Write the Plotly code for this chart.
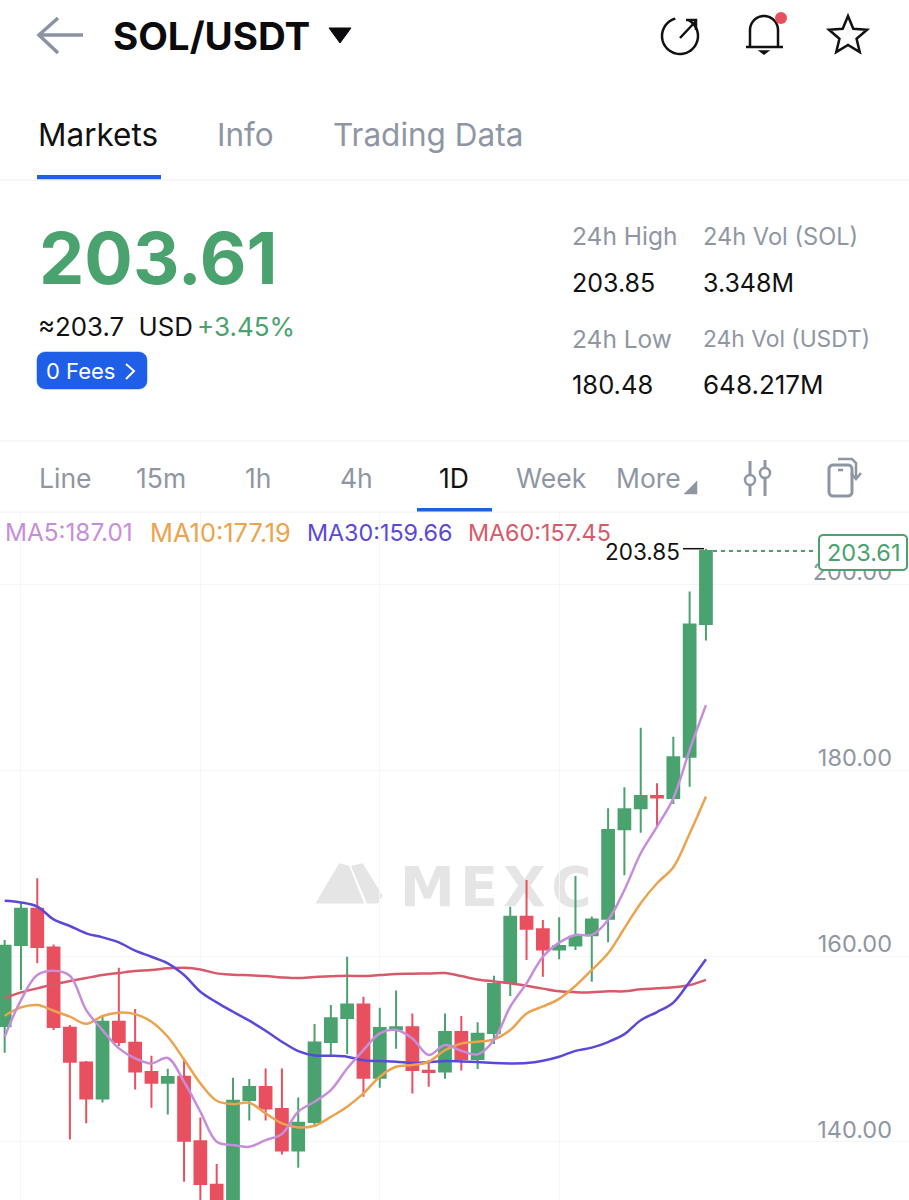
import numpy as np
import plotly.graph_objects as go

# Daily candles
opens = [152.47, 161.19, 165.10, 160.94, 152.29, 148.56, 144.68, 152.94, 150.68, 147.52, 146.37,
         147.02, 140.06, 135.39, 132.00, 144.50, 145.90, 143.54, 139.09, 142.14, 150.75, 153.33,
         154.80, 146.91, 152.11, 152.33, 147.67, 147.59, 151.83, 148.92, 151.72, 157.14, 164.24,
         162.88, 160.72, 161.15, 162.24, 164.03, 173.65, 175.91, 177.24, 177.02, 181.47, 195.75]
closes = [161.12, 165.10, 160.98, 152.36, 148.63, 144.68, 152.94, 150.75, 147.59, 146.37, 146.98,
          140.13, 135.46, 132.00, 144.43, 145.90, 143.61, 139.09, 142.07, 150.71, 153.30, 154.80,
          146.91, 152.26, 152.33, 147.74, 147.52, 151.83, 148.92, 151.65, 157.00, 164.24, 162.95,
          160.72, 161.08, 162.09, 163.93, 173.58, 175.80, 177.24, 177.06, 181.40, 195.68, 203.61]
highs = [161.73, 165.68, 168.37, 161.26, 152.58, 148.70, 153.48, 158.75, 154.30, 149.28, 147.88,
         148.81, 142.64, 137.62, 146.91, 146.77, 147.91, 147.91, 144.79, 152.69, 154.73, 159.93,
         155.63, 154.45, 156.31, 153.83, 148.81, 153.83, 153.55, 152.87, 157.89, 165.32, 168.19,
         163.88, 164.17, 168.62, 164.25, 175.91, 178.17, 184.59, 178.60, 183.62, 199.23, 203.85]
lows = [149.60, 156.35, 159.22, 152.04, 140.27, 142.00, 144.25, 150.32, 145.65, 143.68, 142.96,
        135.72, 133.00, 131.00, 131.00, 142.32, 142.32, 138.66, 137.22, 141.60, 149.35, 149.46,
        144.86, 145.83, 150.03, 145.22, 145.94, 146.80, 147.70, 147.84, 150.53, 155.70, 159.58,
        157.78, 159.65, 160.65, 157.25, 161.49, 168.70, 173.29, 174.01, 176.38, 178.24, 193.96]

ma5 = [151.32, 155.27, 157.96, 158.43, 157.89, 154.19, 152.04, 150.07, 149.00, 148.45, 149.03,
       146.48, 143.25, 140.02, 139.66, 139.48, 140.20, 140.85, 143.25, 144.33, 145.58, 147.91,
       149.89, 151.68, 152.04, 151.14, 149.35, 150.43, 149.82, 149.42, 150.96, 154.55, 157.07,
       159.93, 161.45, 162.28, 162.28, 163.89, 167.12, 171.07, 173.94, 177.00, 182.19, 187.01]
ma10 = [153.58, 154.48, 154.73, 154.12, 153.48, 152.72, 153.55, 153.91, 153.76, 152.94, 151.32,
        148.88, 146.30, 144.43, 144.07, 144.22, 143.07, 142.00, 141.56, 141.74, 142.70, 143.79,
        145.22, 147.02, 148.09, 148.27, 148.63, 149.89, 150.60, 150.78, 151.04, 152.04, 153.83,
        154.58, 155.40, 156.80, 158.51, 160.30, 163.00, 165.70, 167.84, 169.56, 173.20, 177.19]
ma30 = [165.96, 165.78, 165.32, 163.95, 163.24, 162.45, 162.02, 161.48, 160.58, 159.93, 159.22,
        157.96, 156.17, 155.02, 154.01, 153.05, 151.97, 150.78, 149.78, 149.31, 149.28, 149.17,
        148.78, 148.70, 148.63, 148.49, 148.60, 148.70, 148.67, 148.60, 148.49, 148.45, 148.49,
        148.74, 149.17, 149.80, 150.15, 150.75, 151.60, 153.10, 153.98, 155.00, 157.25, 159.66]
ma60 = [155.45, 156.10, 156.53, 156.96, 157.31, 157.64, 157.96, 158.18, 158.39, 158.50, 158.68,
        158.75, 158.57, 158.14, 158.00, 157.93, 157.85, 157.71, 157.64, 157.75, 157.82, 157.89,
        157.85, 157.96, 158.07, 158.10, 158.14, 158.18, 157.85, 157.49, 157.28, 157.07, 156.80,
        156.50, 156.22, 156.12, 156.10, 156.21, 156.21, 156.43, 156.53, 156.64, 156.89, 157.45]

price_ticks = [140, 160, 180, 200]
price_tick_labels = ["140.00", "160.00", "180.00", "200.00"]
day_grid = [1, 12, 23, 34]

W, H = 909, 1200
FONT = "Inter"
GREEN = "#4AA26F"
RED = "#E9505F"
GREY = "#8F96A3"
BLUE = "#1F5FE8"
PALE = "#F5F6F8"
WATER = "#E5E5E5"

days = list(range(len(opens)))

fig = go.Figure()
fig.add_trace(go.Candlestick(
    x=days, open=opens, high=highs, low=lows, close=closes, whiskerwidth=0,
    increasing=dict(line=dict(color=GREEN, width=2), fillcolor=GREEN),
    decreasing=dict(line=dict(color=RED, width=2), fillcolor=RED),
    showlegend=False))

for values, color in [(ma60, "#D85A6A"), (ma30, "#5A49D8"), (ma10, "#EBA34E"), (ma5, "#C68EDA")]:
    fig.add_trace(go.Scatter(x=days, y=values, mode="lines", showlegend=False,
                             line=dict(color=color, width=2.5, shape="spline", smoothing=1)))


# helpers for the app chrome around the chart, all in screen pixels
def fx(x):
    return x / W


def fy(y):
    return 1 - y / H


def poly(points, closed=False):
    s = "M " + " L ".join(f"{fx(x):.5f},{fy(y):.5f}" for x, y in points)
    return s + " Z" if closed else s


def outline(points, color, width=2.5, fill=None, closed=False, layer="above"):
    fig.add_shape(type="path", path=poly(points, closed), xref="paper", yref="paper", layer=layer,
                  line=dict(color=color, width=width), fillcolor=fill)


def rect(x0, y0, x1, y1, color):
    fig.add_shape(type="rect", xref="paper", yref="paper", x0=fx(x0), x1=fx(x1), y0=fy(y0), y1=fy(y1),
                  line=dict(width=0), fillcolor=color)


def rounded(x0, y0, x1, y1, r, n=6):
    pts = []
    corners = [(x1 - r, y0 + r, -90), (x1 - r, y1 - r, 0), (x0 + r, y1 - r, 90), (x0 + r, y0 + r, 180)]
    for cx, cy, start in corners:
        for a in np.radians(np.linspace(start, start + 90, n)):
            pts.append((cx + r * np.cos(a), cy + r * np.sin(a)))
    return pts


def arc(cx, cy, r, a0, a1, n=40):
    return [(cx + r * np.cos(a), cy + r * np.sin(a)) for a in np.radians(np.linspace(a0, a1, n))]


def circle(cx, cy, r, line, fill, width=2.5):
    fig.add_shape(type="circle", xref="paper", yref="paper", x0=fx(cx - r), x1=fx(cx + r),
                  y0=fy(cy + r), y1=fy(cy - r), line=dict(color=line, width=width), fillcolor=fill)


def label(x, y, text, size, color, anchor="left", bold=False):
    # Inter has a little side bearing, pull left aligned text back
    x = x - 2 if anchor == "left" else x
    fig.add_annotation(x=fx(x), y=fy(y), xref="paper", yref="paper", text=f"<b>{text}</b>" if bold else text,
                       showarrow=False, xanchor=anchor, yanchor="middle", borderpad=0,
                       font=dict(family=FONT, size=size, color=color))


# header
outline([(83, 35), (40, 35)], "#8A92A3", 3.5)
outline([(58, 18), (39, 35), (58, 53)], "#8A92A3", 3.5)
label(114, 36, "SOL/USDT", 38.5, "#0B0B0D", bold=True)
outline([(329, 28), (351, 28), (340, 43)], "#0B0B0D", 1, "#0B0B0D", True)

outline(arc(680, 36, 18, -60, 255), "#111111", 2.5)
outline([(680, 38), (696, 21)], "#111111", 2.5)
outline([(686, 20), (696, 20), (696, 30)], "#111111", 2.5)

bell = [(750, 47), (750, 30)] + arc(764, 30, 14, 180, 360, 20) + [(778, 47)]
outline(bell, "#111111", 2.5)
outline([(746, 47), (783, 47)], "#111111", 2.5)
outline([(760, 51), (768, 51), (764, 54)], "#111111", 1.5, "#111111", True)
circle(781, 18, 6, RED, RED, 0)

star = []
for k in range(10):
    a = np.radians(-90 + 36 * k)
    r = 20 if k % 2 == 0 else 9
    star.append((848 + r * np.cos(a), 36 + r * np.sin(a)))
outline(star, "#111111", 2.5, closed=True)

# tabs
label(39, 134, "Markets", 31.5, "#111111")
label(218, 134, "Info", 31.5, GREY)
label(334, 134, "Trading Data", 31.5, GREY)
rect(37, 175, 161, 179.5, BLUE)
rect(0, 179.5, W, 181, PALE)

# price block
label(40, 258, "203.61", 72, GREEN, bold=True)
label(39, 327, "≈203.7  USD", 25.8, "#111111")
label(198, 327, "+3.45%", 26, GREEN)
outline(rounded(37, 352, 147, 389, 8), BLUE, 0.5, BLUE, True)
label(47, 371, "0 Fees", 22, "#FFFFFF")
outline([(126, 364), (134, 371), (126, 379)], "#FFFFFF", 2)

label(573, 236, "24h High", 24.5, GREY)
label(704, 236, "24h Vol (SOL)", 23.6, GREY)
label(573, 283, "203.85", 25, "#111111")
label(704, 283, "3.348M", 25, "#111111")
label(573, 339, "24h Low", 24.5, GREY)
label(704, 339, "24h Vol (USDT)", 22.8, GREY)
label(573, 385, "180.48", 25.5, "#111111")
label(704, 385, "648.217M", 26, "#111111")

# period row
rect(0, 440, W, 442, PALE)
for px_x, name, col in [(40, "Line", GREY), (137, "15m", GREY), (246, "1h", GREY), (341, "4h", GREY),
                        (440, "1D", "#111111"), (517, "Week", GREY), (617, "More", GREY)]:
    label(px_x, 478, name, 26.5, col)
outline([(697, 481), (697, 494), (684, 494)], GREY, 0.5, GREY, True)
rect(417, 508, 492, 512.5, BLUE)
rect(0, 511.5, W, 513, PALE)

outline([(750, 461), (750, 474)], GREY, 3)
outline([(750, 486), (750, 496)], GREY, 3)
outline([(765, 460), (765, 467)], GREY, 3)
outline([(765, 479), (765, 496)], GREY, 3)
circle(750, 480, 5, GREY, None, 2.5)
circle(765, 473, 5, GREY, None, 2.5)

outline(rounded(829, 465, 852, 496, 4), GREY, 3, closed=True)
outline([(838, 470), (843, 470)], GREY, 2.5)
outline([(838, 459), (852, 459), (856, 463), (856, 478)], GREY, 2.5)
outline([(851, 473), (856, 479), (861, 473)], GREY, 2.5)

# moving average readout
label(6, 532, "MA5:187.01", 24.3, "#C68EDA")
label(151, 532, "MA10:177.19", 25.4, "#EBA34E")
label(308, 532, "MA30:159.66", 23.3, "#5A49D8")
label(469, 532, "MA60:157.45", 23.3, "#D85A6A")

# watermark sits under the candles
logo_l = [(318, 902), (340, 865), (348, 867), (362, 902)]
logo_r = [(353, 867), (362, 865), (381, 896), (377, 902), (368, 902)]
outline(logo_l, WATER, 3, WATER, True, layer="below")
outline(logo_r, WATER, 3, WATER, True, layer="below")
fig.add_shape(type="rect", xref="paper", yref="paper", x0=fx(397), x1=fx(610), y0=fy(910), y1=fy(855),
              layer="below", line=dict(width=0), fillcolor="rgba(0,0,0,0)",
              label=dict(text="<b>M\u200aE\u200aX\u200aC</b>", textposition="middle left", padding=0,
                         font=dict(family="DejaVu Sans", size=55, color=WATER)))

# high marker and last price tag
label(606, 551, f"{max(highs):.2f}", 22.5, "#111111")
fig.add_shape(type="line", xref="paper", yref="y", x0=fx(683), x1=fx(704), y0=max(highs), y1=max(highs),
              line=dict(color="#111111", width=1.5))
fig.add_shape(type="line", xref="paper", yref="y", x0=fx(713), x1=fx(817), y0=closes[-1], y1=closes[-1],
              line=dict(color=GREEN, width=2, dash="4px,4px"))
outline(rounded(819, 535, 907, 570, 4), GREEN, 2, "#FFFFFF", True)
label(863, 552, f"{closes[-1]:.2f}", 23.5, GREEN, anchor="center")

fig.update_layout(
    width=W, height=H, autosize=False,
    margin=dict(l=0, r=0, t=0, b=0),
    paper_bgcolor="white", plot_bgcolor="white",
    boxgap=0.28, boxgroupgap=0,
    showlegend=False,
    xaxis=dict(range=[-0.286, 55.45], domain=[0, 1], tickvals=day_grid, showticklabels=False,
               showgrid=True, gridcolor=PALE, gridwidth=1, zeroline=False, showline=False,
               ticks="", rangeslider=dict(visible=False)),
    yaxis=dict(range=[133.75, 207.8], domain=[0, 688 / 1200], side="right", tickvals=price_ticks,
               ticktext=price_tick_labels, ticklabelposition="inside top", ticklabelstandoff=14,
               ticklabelshift=4,
               tickfont=dict(family=FONT, size=23.5, color=GREY), showgrid=True, gridcolor=PALE,
               gridwidth=1, zeroline=False, showline=False, ticks=""),
)

fig.write_html("out.html", config=dict(displayModeBar=False),
               post_script="document.body.style.margin='0';")
